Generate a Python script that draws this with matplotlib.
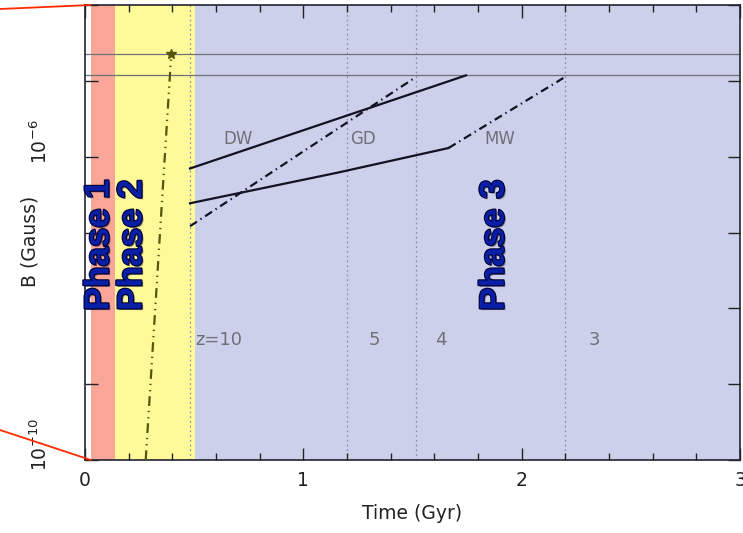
import matplotlib
matplotlib.use('Agg')
import matplotlib.pyplot as plt
import matplotlib.patheffects as pe
from matplotlib import ticker, transforms

plt.rcParams['font.family'] = ['DejaVu Sans']
plt.rcParams['mathtext.default'] = 'regular'
plt.rcParams['lines.scale_dashes'] = False

# phase bands (Gyr)
phase_names = ['Phase 1', 'Phase 2', 'Phase 3']
phase_start = [0.027, 0.136, 0.505]
phase_end = [0.136, 0.505, 3.0]
phase_colors = ['#f9a698', '#fffa99', '#cdd0ea']
phase_label_t = [0.064, 0.215, 1.874]

# redshift markers
z_labels = ['z=10', '5', '4', '3']
z_times = [0.48, 1.20, 1.516, 2.20]
z_label_t = [0.505, 1.30, 1.605, 2.305]

# field growth curves
dw_t = [0.481, 1.745]
dw_B = [6.98e-7, 1.18e-5]
mw_t = [0.481, 1.153, 1.665]
mw_B = [2.43e-7, 6.12e-7, 1.30e-6]
mw_late_t = [1.665, 2.191]
mw_late_B = [1.30e-6, 1.09e-5]
gd_t = [0.481, 1.507]
gd_B = [1.21e-7, 1.08e-5]
seed_t = [0.278, 0.395]
seed_B = [1e-10, 2.24e-5]
ref_B = [2.24e-5, 1.18e-5]

curve_names = ['DW', 'GD', 'MW']
curve_label_t = [0.632, 1.214, 1.828]

fig = plt.figure(figsize=(7.43, 5.33), dpi=100)
ax = fig.add_axes([85/743, 73/533, 655/743, 455/533])
ax.set_xlim(0, 3)
ax.set_yscale('log')
ax.set_ylim(1e-10, 1e-4)

for s, e, c in zip(phase_start, phase_end, phase_colors):
    ax.axvspan(s, e, color=c, lw=0, zorder=0)

for zt in z_times:
    ax.axvline(zt, color='#8a8aa0', lw=0.9, ls=(0, (1.2, 2.2)), zorder=1)
for lab, xt in zip(z_labels, z_label_t):
    ax.text(xt, 3.85e-9, lab, color='#707078', fontsize=13, ha='left', va='center')

for b in ref_B:
    ax.axhline(b, color='#707078', lw=0.9, zorder=1)

ink = '#121222'
dashdot = (0, (6, 3, 1, 3))
ax.plot(dw_t, dw_B, color=ink, lw=1.6, zorder=3)
ax.plot(mw_t, mw_B, color=ink, lw=1.6, zorder=3)
ax.plot(mw_late_t, mw_late_B, color=ink, lw=1.6, ls=dashdot, zorder=3)
ax.plot(gd_t, gd_B, color=ink, lw=1.6, ls=dashdot, zorder=3)

olive = '#55550f'
ax.plot(seed_t, seed_B, color=olive, lw=1.6, ls=(0, (7, 3.5, 1, 3.5, 1, 3.5)), zorder=3)
ax.plot(seed_t[-1], seed_B[-1], marker='*', color=olive, ms=7, zorder=4)

for lab, xt in zip(curve_names, curve_label_t):
    ax.text(xt, 1.69e-6, lab, color='#707078', fontsize=12, ha='left', va='center')

for lab, xt in zip(phase_names, phase_label_t):
    ax.text(xt, 9.3e-9, lab, rotation=90, ha='center', va='bottom',
            family='Liberation Sans', weight='bold', fontsize=25, color='#0a1fa8',
            zorder=5,
            path_effects=[pe.withSimplePatchShadow(offset=(1.2, -1.2), shadow_rgbFace='#000022', alpha=0.5),
                          pe.Stroke(linewidth=1.6, foreground='#000033'), pe.Normal()])

# axes styling
ax.xaxis.set_major_locator(ticker.FixedLocator([0, 1, 2, 3]))
ax.xaxis.set_minor_locator(ticker.MultipleLocator(0.2))
ax.xaxis.set_major_formatter(ticker.FormatStrFormatter('%d'))
ax.yaxis.set_major_locator(ticker.LogLocator(base=10, numticks=20))
ax.yaxis.set_minor_locator(ticker.NullLocator())
ax.yaxis.set_major_formatter(ticker.NullFormatter())
ax.tick_params(which='both', direction='in', top=True, right=True, color='#222222', width=1)
ax.tick_params(axis='x', which='major', length=9, labelsize=13.5, pad=8, labelcolor='#222222')
ax.tick_params(axis='x', which='minor', length=5)
ax.tick_params(axis='y', which='major', length=9)
for sp in ax.spines.values():
    sp.set_color('#222233')
    sp.set_linewidth(1.2)

# y labels drawn by hand, only two decades labelled
ylab_tr = transforms.offset_copy(ax.get_yaxis_transform(), fig=fig, x=0, y=15, units='dots')
for v, lab in [(1e-10, '$10^{-10}$'), (1e-6, '$10^{-6}$')]:
    ax.text(-0.069, v, lab, transform=ylab_tr, rotation=90, ha='center', va='center',
            fontsize=13.5, color='#222222')

ax.set_xlabel('Time (Gyr)', fontsize=13.5, color='#222222')
ax.xaxis.set_label_coords(0.5, -0.097)
ax.set_ylabel('B (Gauss)', fontsize=13.5, color='#222222')
ax.yaxis.set_label_coords(-0.069, 0.481)

# zoom connector lines back to previous panel
red = '#ff2a00'
for yv, yf in [(1e-4, 1 - 9/533), (1e-10, 1 - 430/533)]:
    ax.annotate('', xy=(phase_start[0], yv), xycoords='data',
                xytext=(0, yf), textcoords='figure fraction',
                arrowprops=dict(arrowstyle='-', color=red, lw=1.3, shrinkA=0, shrinkB=0),
                annotation_clip=False)

fig.savefig('out.png', dpi=100)
